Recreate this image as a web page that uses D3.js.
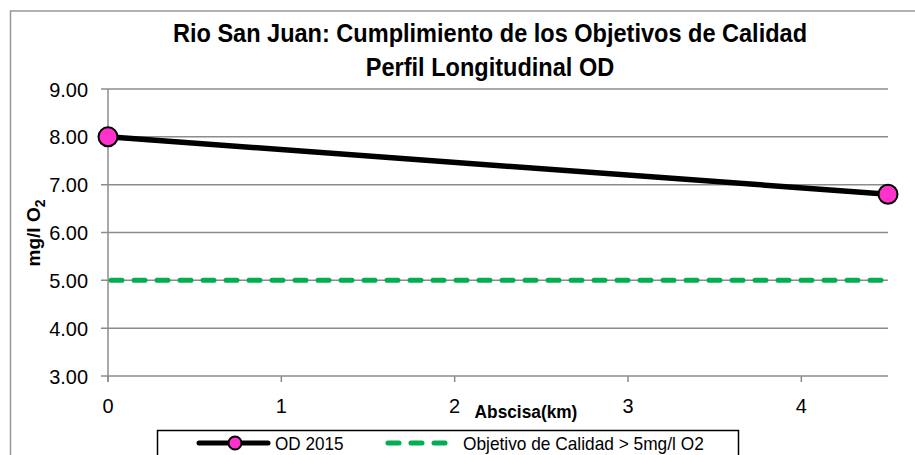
<!DOCTYPE html>
<html>
<head>
<meta charset="utf-8">
<script src="https://cdn.jsdelivr.net/npm/d3@7"></script>
<style>
  body { margin: 0; background: #fff; }
  svg text { font-family: "Liberation Sans Narrow", "Arial Narrow", "Liberation Sans", sans-serif; }
</style>
</head>
<body>
<div id="chart"></div>
<script>
// Data
var abscisa = [0, 4.5];
var odValues = [8.0, 6.8];
var objetivo = 5.0;
var yTicks = [3, 4, 5, 6, 7, 8, 9];
var xTicks = [0, 1, 2, 3, 4];
var titleLines = ["Rio San Juan: Cumplimiento de los Objetivos de Calidad", "Perfil Longitudinal OD"];

var width = 915, height = 455;
var margin = { left: 108, right: 27, top: 89, bottom: 79 };

// squeeze text horizontally to mimic a narrow font
function narrow(sel, f) {
    sel.each(function () {
        var w = this.getComputedTextLength();
        d3.select(this)
            .attr("textLength", w * f)
            .attr("lengthAdjust", "spacingAndGlyphs");
    });
}

var svg = d3.select("#chart")
    .append("svg")
    .attr("width", width)
    .attr("height", height);

// outer chart border
svg.append("rect")
    .attr("x", 10.5).attr("y", 11)
    .attr("width", 920).attr("height", 460)
    .attr("fill", "none")
    .attr("stroke", "#999")
    .attr("stroke-width", 1.5);

var xScale = d3.scaleLinear().domain([0, 4.5]).range([margin.left, width - margin.right]);
var yScale = d3.scaleLinear().domain([3, 9]).range([height - margin.bottom, margin.top]);

// Gridlines
svg.append("g")
    .selectAll("line")
    .data(yTicks)
    .enter()
    .append("line")
    .attr("x1", xScale(0) - 7)
    .attr("x2", xScale(4.5))
    .attr("y1", function (d) { return yScale(d); })
    .attr("y2", function (d) { return yScale(d); })
    .attr("stroke", "#8c8c8c")
    .attr("stroke-width", 1.5);

// Y axis line
svg.append("line")
    .attr("x1", xScale(0)).attr("x2", xScale(0))
    .attr("y1", yScale(9)).attr("y2", yScale(3) + 6)
    .attr("stroke", "#8c8c8c")
    .attr("stroke-width", 1.5);

// X ticks
svg.append("g")
    .selectAll("line")
    .data(xTicks)
    .enter()
    .append("line")
    .attr("x1", function (d) { return xScale(d); })
    .attr("x2", function (d) { return xScale(d); })
    .attr("y1", yScale(3))
    .attr("y2", yScale(3) + 6)
    .attr("stroke", "#8c8c8c")
    .attr("stroke-width", 1.5);

// Y tick labels
svg.append("g")
    .selectAll("text")
    .data(yTicks)
    .enter()
    .append("text")
    .attr("x", 88)
    .attr("y", function (d) { return yScale(d) + 7.5; })
    .attr("text-anchor", "end")
    .style("font-size", "21px")
    .text(function (d) { return d.toFixed(2); })
    .call(narrow, 0.95);

// X tick labels
svg.append("g")
    .selectAll("text")
    .data(xTicks)
    .enter()
    .append("text")
    .attr("x", function (d) { return xScale(d); })
    .attr("y", 413)
    .attr("text-anchor", "middle")
    .style("font-size", "21px")
    .text(function (d) { return d; })
    .call(narrow, 0.95);

// Axis titles
svg.append("text")
    .attr("x", 526)
    .attr("y", 418)
    .attr("text-anchor", "middle")
    .style("font-size", "18px")
    .style("font-weight", "bold")
    .text("Abscisa(km)")
    .call(narrow, 0.96);

var yLabel = svg.append("text")
    .attr("transform", "translate(40,233) rotate(-90)")
    .attr("text-anchor", "middle")
    .style("font-size", "19px")
    .style("font-weight", "bold");
yLabel.append("tspan").text("mg/l O");
yLabel.append("tspan").attr("dy", 5).style("font-size", "14px").text("2");

// Title
svg.append("g")
    .selectAll("text")
    .data(titleLines)
    .enter()
    .append("text")
    .attr("x", 490)
    .attr("y", function (d, i) { return 42 + i * 34; })
    .attr("text-anchor", "middle")
    .style("font-size", "26px")
    .style("font-weight", "bold")
    .text(function (d) { return d; })
    .call(narrow, 0.905);

// Objective line
svg.append("line")
    .attr("x1", xScale(0) + 3).attr("x2", xScale(4.5) - 3)
    .attr("y1", yScale(objetivo)).attr("y2", yScale(objetivo))
    .attr("stroke", "#00b050")
    .attr("stroke-width", 5)
    .attr("stroke-dasharray", "11,12")
    .attr("stroke-linecap", "round");

// OD line
var odData = abscisa.map(function (x, i) { return { x: x, y: odValues[i] }; });
var line = d3.line()
    .x(function (d) { return xScale(d.x); })
    .y(function (d) { return yScale(d.y); });

svg.append("path")
    .datum(odData)
    .attr("d", line)
    .attr("fill", "none")
    .attr("stroke", "#000")
    .attr("stroke-width", 5.5);

svg.selectAll("circle.od")
    .data(odData)
    .enter()
    .append("circle")
    .attr("class", "od")
    .attr("cx", function (d) { return xScale(d.x); })
    .attr("cy", function (d) { return yScale(d.y); })
    .attr("r", 9.5)
    .attr("fill", "#ff33cc")
    .attr("stroke", "#000")
    .attr("stroke-width", 2);

// Legend
var legend = svg.append("g");
legend.append("rect")
    .attr("x", 157.5).attr("y", 430.5)
    .attr("width", 581).attr("height", 30)
    .attr("fill", "#fff")
    .attr("stroke", "#000")
    .attr("stroke-width", 1.5);
legend.append("line")
    .attr("x1", 199).attr("x2", 268)
    .attr("y1", 443).attr("y2", 443)
    .attr("stroke", "#000").attr("stroke-width", 5)
    .attr("stroke-linecap", "round");
legend.append("circle")
    .attr("cx", 235).attr("cy", 443).attr("r", 6.5)
    .attr("fill", "#ff33cc").attr("stroke", "#000").attr("stroke-width", 2);
legend.append("text")
    .attr("x", 275).attr("y", 450)
    .style("font-size", "19px")
    .text("OD 2015")
    .call(narrow, 0.9);
legend.append("line")
    .attr("x1", 388).attr("x2", 450)
    .attr("y1", 443).attr("y2", 443)
    .attr("stroke", "#00b050").attr("stroke-width", 5)
    .attr("stroke-dasharray", "11,12")
    .attr("stroke-linecap", "round");
legend.append("text")
    .attr("x", 463).attr("y", 450)
    .style("font-size", "19px")
    .text("Objetivo de Calidad > 5mg/l O2")
    .call(narrow, 0.91);
</script>
</body>
</html>
